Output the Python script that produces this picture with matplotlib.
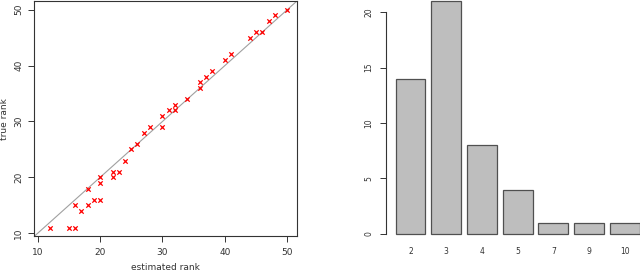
import numpy as np
import matplotlib
matplotlib.use("Agg")
import matplotlib.pyplot as plt

# scatter: estimated vs true rank
est_rank = [12, 15, 16, 16, 17, 18, 18, 19, 20, 20, 20, 22, 22, 23, 24, 25, 26,
            27, 28, 30, 30, 31, 32, 32, 34, 36, 36, 37, 38, 40, 41, 44, 45, 46,
            47, 48, 50]
true_rank = [11, 11, 11, 15, 14, 15, 18, 16, 16, 20, 19, 21, 20, 21, 23, 25, 26,
             28, 29, 29, 31, 32, 33, 32, 34, 37, 36, 38, 39, 41, 42, 45, 46, 46,
             48, 49, 50]

# bar chart
cats = ["2", "3", "4", "5", "7", "9", "10"]
counts = [14, 21, 8, 4, 1, 1, 1]

fig = plt.figure(figsize=(6.4, 2.72), dpi=100)

# left panel
ax1 = fig.add_axes([0.0534, 0.1309, 0.4106, 0.8654])
ax1.plot([0, 60], [0, 60], color="#a0a0a0", lw=0.8, zorder=1)
ax1.scatter(est_rank, true_rank, marker="x", s=10, c="red", linewidths=0.9, zorder=2)
ax1.set_xlim(9.44, 51.56)
ax1.set_ylim(9.44, 51.56)
ax1.set_xticks([10, 20, 30, 40, 50])
ax1.set_yticks([10, 20, 30, 40, 50])
ax1.tick_params(labelsize=6.5, length=4, width=0.7, pad=4, color="#333333", labelcolor="#333333")
for lbl in ax1.get_yticklabels():
    lbl.set_rotation(90)
    lbl.set_va("center")
for s in ax1.spines.values():
    s.set_linewidth(0.8)
    s.set_color("#333333")
ax1.set_xlabel("estimated rank", fontsize=6.5, color="#333333", labelpad=5)
ax1.set_ylabel("true rank", fontsize=6.5, color="#333333", va="center")
ax1.yaxis.set_label_coords(-0.112, 0.5)

# right panel (plot region extends past the figure edges)
ax2 = fig.add_axes([0.603, 0.1055, 0.4117, 0.9254])
pos = np.arange(len(cats)) * 1.2 + 0.7
ax2.bar(pos, counts, width=1.0, color="#bebebe", edgecolor="#505050", linewidth=0.9)
ax2.set_xlim(-0.128, 8.728)
ax2.set_ylim(-0.84, 21.84)
ax2.set_xticks(pos)
ax2.set_xticklabels(cats)
ax2.set_yticks([0, 5, 10, 15, 20])
ax2.tick_params(axis="x", length=0, pad=3, labelsize=5.5, labelcolor="#333333")
ax2.tick_params(axis="y", length=4, width=0.7, pad=5, labelsize=5.5,
                color="#333333", labelcolor="#333333")
for lbl in ax2.get_yticklabels():
    lbl.set_rotation(90)
    lbl.set_va("center")
for side in ["top", "right", "bottom"]:
    ax2.spines[side].set_visible(False)
ax2.spines["left"].set_bounds(0, 20)
ax2.spines["left"].set_linewidth(0.8)
ax2.spines["left"].set_color("#333333")

fig.savefig("out.png", dpi=100)
